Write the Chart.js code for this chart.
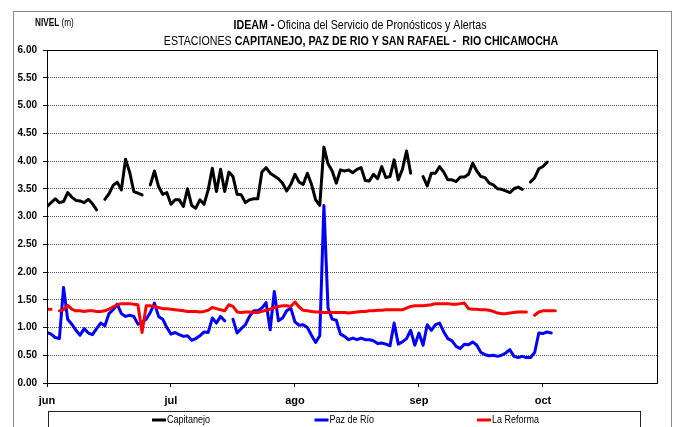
<!DOCTYPE html>
<html>
<head>
<meta charset="utf-8">
<script src="https://cdn.jsdelivr.net/npm/chart.js@4.4.0/dist/chart.umd.min.js"></script>
<style>
  html, body { margin: 0; padding: 0; background: #fff; }
</style>
</head>
<body>
<canvas id="c_nivel" width="676" height="427"></canvas>
<script>
const FONT = '"Liberation Sans Narrow", "Arial Narrow", "Liberation Sans", Arial, sans-serif'
// sin Arial Narrow instalada: se comprime el texto a mano
const NARROW = 0.82

// eje x: dias desde 1 de junio, una marca por mes
const monthDays = [0, 30, 60, 90, 120]
const monthLabels = ['jun', 'jul', 'ago', 'sep', 'oct']
const lastDay = 147.6

// nivel (m), un valor por dia, null = sin dato
const capitanejo = [
    3.18, 3.25, 3.32, 3.25, 3.27, 3.43, 3.35, 3.29, 3.28, 3.25,
    3.31, 3.23, 3.12, null, 3.31, 3.41, 3.56, 3.62, 3.48, 4.03,
    3.80, 3.45, 3.42, 3.39, null, 3.57, 3.82, 3.54, 3.40, 3.43,
    3.22, 3.30, 3.30, 3.18, 3.50, 3.20, 3.15, 3.30, 3.22, 3.48,
    3.87, 3.45, 3.85, 3.45, 3.80, 3.72, 3.40, 3.39, 3.25, 3.30,
    3.32, 3.32, 3.80, 3.88, 3.78, 3.73, 3.68, 3.60, 3.46, 3.58,
    3.76, 3.62, 3.58, 3.78, 3.58, 3.30, 3.20, 4.25, 3.95, 3.82,
    3.60, 3.84, 3.82, 3.84, 3.79, 3.85, 3.88, 3.65, 3.64, 3.76,
    3.68, 3.90, 3.70, 3.72, 4.02, 3.66, 3.85, 4.18, 3.78, null,
    null, 3.72, 3.55, 3.78, 3.78, 3.90, 3.80, 3.66, 3.66, 3.63,
    3.71, 3.71, 3.76, 3.96, 3.82, 3.72, 3.70, 3.60, 3.57, 3.50,
    3.49, 3.46, 3.43, 3.50, 3.53, 3.49, null, 3.62, 3.70, 3.86,
    3.90, 3.98
]
const pazDeRio = [
    0.91, 0.88, 0.82, 0.80, 1.72, 1.15, 1.06, 0.95, 0.86, 0.98,
    0.90, 0.87, 0.98, 1.08, 1.03, 1.25, 1.32, 1.42, 1.25, 1.20,
    1.22, 1.20, 1.06, 1.10, 1.15, 1.27, 1.44, 1.20, 1.15, 1.00,
    0.88, 0.91, 0.87, 0.84, 0.85, 0.77, 0.80, 0.85, 0.92, 0.91,
    1.17, 1.08, 1.20, 1.12, null, 1.15, 0.90, 0.98, 1.05, 1.20,
    1.30, 1.30, 1.35, 1.45, 0.96, 1.65, 1.12, 1.17, 1.30, 1.35,
    1.10, 1.04, 1.05, 1.00, 0.86, 0.73, 0.85, 3.20, 1.35, 1.15,
    1.13, 0.88, 0.84, 0.78, 0.81, 0.78, 0.81, 0.78, 0.78, 0.76,
    0.71, 0.72, 0.70, 0.67, 1.08, 0.70, 0.74, 0.80, 0.95, 0.68,
    0.90, 0.68, 1.05, 0.95, 1.05, 1.08, 0.92, 0.80, 0.76, 0.66,
    0.62, 0.70, 0.69, 0.74, 0.68, 0.55, 0.51, 0.49, 0.50, 0.48,
    0.50, 0.54, 0.60, 0.48, 0.46, 0.48, 0.46, 0.46, 0.55, 0.90,
    0.89, 0.92, 0.90
]
const laReforma = [
    1.33, 1.33, null, 1.30, 1.32, 1.40, 1.33, 1.30, 1.30, 1.29,
    1.30, 1.30, 1.29, 1.29, 1.30, 1.33, 1.37, 1.41, 1.43, 1.43,
    1.43, 1.42, 1.41, 0.91, 1.39, 1.39, 1.38, 1.36, 1.34, 1.34,
    1.33, 1.32, 1.31, 1.30, 1.29, 1.29, 1.29, 1.28, 1.29, 1.31,
    1.36, 1.34, 1.32, 1.30, 1.41, 1.38, 1.28, 1.27, 1.28, 1.28,
    1.27, 1.27, 1.29, 1.31, 1.33, 1.36, 1.38, 1.39, 1.39, 1.38,
    1.46, 1.37, 1.31, 1.30, 1.29, 1.28, 1.28, 1.27, 1.27, 1.27,
    1.27, 1.27, 1.27, 1.26, 1.27, 1.28, 1.29, 1.29, 1.30, 1.30,
    1.31, 1.31, 1.32, 1.32, 1.32, 1.32, 1.32, 1.35, 1.38, 1.39,
    1.39, 1.39, 1.40, 1.41, 1.43, 1.43, 1.43, 1.43, 1.42, 1.42,
    1.43, 1.44, 1.34, 1.33, 1.33, 1.32, 1.32, 1.31, 1.29, 1.26,
    1.25, 1.25, 1.26, 1.27, 1.28, 1.28, 1.28, null, 1.22, 1.28,
    1.30, 1.30, 1.30, 1.30
]

let toPoints = function (arr) {
    return arr.map((v, i) => ({ x: i, y: v }))
}

// texto con tramos en negrita y normales, comprimido en horizontal
function drawRich(ctx, parts, x, y, align, size) {
    let widths = parts.map(p => {
        ctx.font = `${p[1] ? 'bold ' : ''}${size}px ${FONT}`
        return ctx.measureText(p[0]).width * NARROW
    })
    let total = widths.reduce((a, b) => a + b, 0)
    let cx = align === 'center' ? x - total / 2 : x
    parts.forEach((p, i) => {
        ctx.save()
        ctx.font = `${p[1] ? 'bold ' : ''}${size}px ${FONT}`
        ctx.translate(cx, y)
        ctx.scale(NARROW, 1)
        ctx.fillText(p[0], 0, 0)
        ctx.restore()
        cx += widths[i]
    })
}

const framePlugin = {
    id: 'frame',
    beforeDraw(chart) {
        const ctx = chart.ctx
        ctx.save()
        ctx.fillStyle = '#fff'
        ctx.fillRect(0, 0, chart.width, chart.height)
        ctx.strokeStyle = '#888'
        ctx.lineWidth = 1
        ctx.strokeRect(13.5, 11.5, 658, 440)
        ctx.restore()
    },
    afterDraw(chart) {
        const ctx = chart.ctx
        const a = chart.chartArea
        ctx.save()
        ctx.strokeStyle = '#000'
        ctx.lineWidth = 1
        ctx.strokeRect(Math.round(a.left) + 0.5, Math.round(a.top) + 0.5, Math.round(a.right - a.left), Math.round(a.bottom - a.top))

        // titulos
        ctx.fillStyle = '#000'
        ctx.textBaseline = 'alphabetic'
        drawRich(ctx, [['NIVEL', true], [' (m)', false]], 35, 26, 'left', 10)
        drawRich(ctx, [['IDEAM -', true], [' Oficina del Servicio de Pronósticos y Alertas', false]], 360, 29, 'center', 13)
        drawRich(ctx, [['ESTACIONES ', false], ['CAPITANEJO, PAZ DE RIO Y SAN RAFAEL -  RIO CHICAMOCHA', true]], 361, 45, 'center', 13)

        // leyenda
        ctx.strokeStyle = '#222'
        ctx.strokeRect(48.5, 411.5, 592, 40)
        ctx.textBaseline = 'middle'
        chart.data.datasets.forEach((ds, i) => {
            const x0 = 152 + 162.5 * i
            ctx.strokeStyle = ds.borderColor
            ctx.lineWidth = 3
            ctx.beginPath()
            ctx.moveTo(x0, 420)
            ctx.lineTo(x0 + 14, 420)
            ctx.stroke()
            ctx.fillStyle = '#000'
            drawRich(ctx, [[ds.label, false]], x0 + 15, 420, 'left', 11)
        })
        ctx.restore()
    }
}

var ctx = document.getElementById('c_nivel').getContext('2d')
new Chart(ctx, {
    type: 'line',
    data: {
        datasets: [{
            label: 'Capitanejo',
            data: toPoints(capitanejo),
            borderColor: '#000000',
            order: 2
        }, {
            label: 'Paz de Río',
            data: toPoints(pazDeRio),
            borderColor: '#0000ff',
            order: 1
        }, {
            label: 'La Reforma',
            data: toPoints(laReforma),
            borderColor: '#ff0000',
            order: 0
        }]
    },
    options: {
        responsive: false,
        animation: false,
        spanGaps: false,
        elements: {
            line: { borderWidth: 3, tension: 0, borderJoinStyle: 'round', borderCapStyle: 'round' },
            point: { radius: 0 }
        },
        layout: { padding: { left: 0, top: 50, right: 19, bottom: 20 } },
        plugins: {
            legend: { display: false },
            tooltip: { enabled: false }
        },
        scales: {
            x: {
                type: 'linear',
                min: 0,
                max: lastDay,
                afterBuildTicks: s => { s.ticks = monthDays.map(v => ({ value: v })) },
                afterFit: s => { s.height = 24 },
                ticks: {
                    autoSkip: false,
                    maxRotation: 0,
                    padding: 7,
                    color: '#000',
                    font: { family: FONT, size: 11, weight: 'bold' },
                    callback: v => monthLabels[monthDays.indexOf(v)]
                },
                grid: { drawOnChartArea: false, tickLength: 4, tickColor: '#000' },
                border: { color: '#000', width: 1 }
            },
            y: {
                min: 0,
                max: 6,
                afterFit: s => { s.width = 47 },
                ticks: {
                    stepSize: 0.5,
                    padding: 6,
                    color: '#000',
                    font: { family: FONT, size: 10, weight: 'bold' },
                    callback: v => v.toFixed(2)
                },
                grid: { color: '#555', lineWidth: 1, tickLength: 4, tickColor: '#000' },
                border: { color: '#000', width: 1, dash: [1, 1] }
            }
        }
    },
    plugins: [framePlugin]
})
</script>
</body>
</html>
